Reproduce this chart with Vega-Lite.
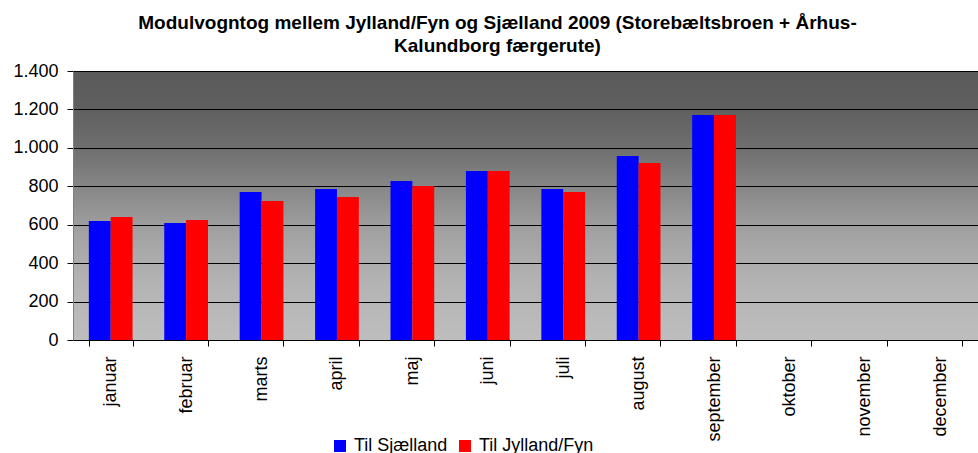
{
  "$schema": "https://vega.github.io/schema/vega-lite/v6.json",
  "width": 905,
  "height": 269,
  "autosize": "none",
  "padding": {"left": 73, "top": 71, "right": 0, "bottom": 113},
  "background": "#ffffff",
  "title": {
    "text": ["Modulvogntog mellem Jylland/Fyn og Sjælland 2009 (Storebæltsbroen + Århus-", "Kalundborg færgerute)"],
    "font": "Liberation Sans",
    "fontSize": 19,
    "fontWeight": "bold",
    "color": "#000000",
    "lineHeight": 23,
    "anchor": "middle",
    "offset": 6,
    "dx": -28
  },
  "data": {
    "values": [
      {"month": "januar", "serie": "Til Sjælland", "value": 619},
      {"month": "januar", "serie": "Til Jylland/Fyn", "value": 640},
      {"month": "februar", "serie": "Til Sjælland", "value": 609},
      {"month": "februar", "serie": "Til Jylland/Fyn", "value": 625},
      {"month": "marts", "serie": "Til Sjælland", "value": 770},
      {"month": "marts", "serie": "Til Jylland/Fyn", "value": 723},
      {"month": "april", "serie": "Til Sjælland", "value": 786},
      {"month": "april", "serie": "Til Jylland/Fyn", "value": 744},
      {"month": "maj", "serie": "Til Sjælland", "value": 827},
      {"month": "maj", "serie": "Til Jylland/Fyn", "value": 801},
      {"month": "juni", "serie": "Til Sjælland", "value": 880},
      {"month": "juni", "serie": "Til Jylland/Fyn", "value": 880},
      {"month": "juli", "serie": "Til Sjælland", "value": 786},
      {"month": "juli", "serie": "Til Jylland/Fyn", "value": 770},
      {"month": "august", "serie": "Til Sjælland", "value": 958},
      {"month": "august", "serie": "Til Jylland/Fyn", "value": 921},
      {"month": "september", "serie": "Til Sjælland", "value": 1171},
      {"month": "september", "serie": "Til Jylland/Fyn", "value": 1171}
    ]
  },
  "mark": {"type": "bar"},
  "encoding": {
    "x": {
      "field": "month",
      "type": "nominal",
      "scale": {
        "domain": ["januar", "februar", "marts", "april", "maj", "juni", "juli", "august", "september", "oktober", "november", "december"],
        "paddingInner": 0.42,
        "paddingOuter": 0.21
      },
      "axis": {
        "title": null,
        "labelAngle": -90,
        "labelAlign": "right",
        "labelBaseline": "middle",
        "labelFont": "Liberation Sans",
        "labelFontSize": 18,
        "labelColor": "#000000",
        "labelPadding": 10,
        "tickBand": "extent",
        "tickSize": 6,
        "tickColor": "#000000",
        "domainColor": "#000000",
        "grid": false
      }
    },
    "xOffset": {
      "field": "serie",
      "type": "nominal",
      "scale": {"domain": ["Til Sjælland", "Til Jylland/Fyn"], "paddingInner": 0, "paddingOuter": 0}
    },
    "y": {
      "field": "value",
      "type": "quantitative",
      "scale": {"domain": [0, 1400], "nice": false},
      "axis": {
        "title": null,
        "values": [0, 200, 400, 600, 800, 1000, 1200, 1400],
        "format": ",.0f",
        "labelFont": "Liberation Sans",
        "labelFontSize": 18,
        "labelColor": "#000000",
        "labelPadding": 9,
        "tickSize": 6,
        "tickColor": "#000000",
        "domainColor": "#808080",
        "grid": true,
        "gridColor": "#000000",
        "gridWidth": 1,
        "gridOpacity": 1
      }
    },
    "color": {
      "field": "serie",
      "type": "nominal",
      "scale": {"domain": ["Til Sjælland", "Til Jylland/Fyn"], "range": ["#0000ff", "#ff0000"]},
      "legend": {
        "title": null,
        "orient": "none",
        "direction": "horizontal",
        "legendX": 258,
        "legendY": 366,
        "symbolType": "square",
        "symbolSize": 144,
        "symbolStrokeWidth": 0,
        "symbolOpacity": 1,
        "labelFont": "Liberation Sans",
        "labelFontSize": 18,
        "labelColor": "#000000",
        "labelOffset": 5,
        "columnPadding": 8,
        "padding": 0
      }
    }
  },
  "config": {
    "locale": {
      "number": {"decimal": ",", "thousands": ".", "grouping": [3], "currency": ["", " kr"]}
    },
    "view": {
      "stroke": "#808080",
      "fill": {
        "gradient": "linear",
        "x1": 0, "y1": 0, "x2": 0, "y2": 1,
        "stops": [
          {"offset": 0, "color": "#5a5a5a"},
          {"offset": 0.15, "color": "#606060"},
          {"offset": 0.3, "color": "#717171"},
          {"offset": 0.45, "color": "#8a8a8a"},
          {"offset": 0.6, "color": "#a2a2a2"},
          {"offset": 0.78, "color": "#b3b3b3"},
          {"offset": 1, "color": "#bebebe"}
        ]
      }
    }
  }
}
